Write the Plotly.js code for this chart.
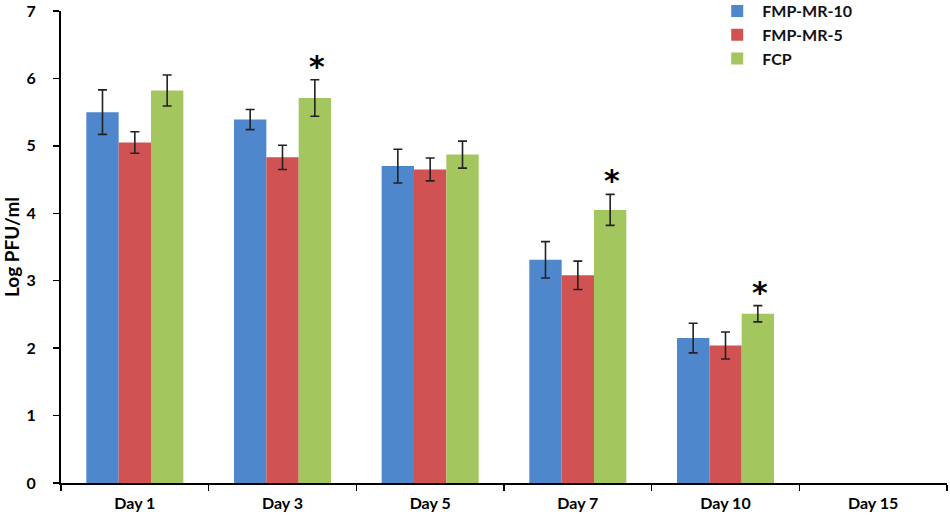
<!DOCTYPE html>
<html>
<head>
<meta charset="utf-8">
<script src="https://cdn.plot.ly/plotly-3.0.1.min.js"></script>
<style>
  body { margin: 0; background: #fff; }
  #myChart { width: 950px; height: 521px; }
</style>
</head>
<body>
<div id="myChart"></div>
<script>
// days on the x axis (Day 15 has no bars)
const days = ['Day 1', 'Day 3', 'Day 5', 'Day 7', 'Day 10', 'Day 15'];

// Log PFU/ml
const mr10 = [5.50, 5.39, 4.70, 3.31, 2.15, null];
const mr10Err = [0.33, 0.15, 0.25, 0.27, 0.22, null];

const mr5 = [5.05, 4.83, 4.65, 3.08, 2.04, null];
const mr5Err = [0.16, 0.18, 0.17, 0.21, 0.20, null];

const fcp = [5.82, 5.71, 4.87, 4.05, 2.51, null];
const fcpErr = [0.23, 0.27, 0.20, 0.23, 0.12, null];

// which FCP bars get a significance star
const starDays = ['Day 3', 'Day 7', 'Day 10'];

const fontFam = 'Lato, "Open Sans", sans-serif';

function barTrace(name, y, err, color) {
    return {
        type: 'bar',
        name: name,
        x: days,
        y: y,
        marker: { color: color, line: { width: 0 } },
        error_y: {
            type: 'data',
            array: err,
            visible: true,
            color: '#222',
            thickness: 1.6,
            width: 4.5
        }
    };
}

var data = [
    barTrace('FMP-MR-10', mr10, mr10Err, '#4F87CC'),
    barTrace('FMP-MR-5', mr5, mr5Err, '#D05252'),
    barTrace('FCP', fcp, fcpErr, '#A4C65E')
];

// stars sit over the green (third) bar of each group
var stars = starDays.map(function (d) {
    var i = days.indexOf(d);
    return {
        x: d,
        y: fcp[i] + fcpErr[i],
        xref: 'x',
        yref: 'y',
        text: '*',
        showarrow: false,
        xshift: 34,
        yanchor: 'bottom',
        yshift: -6,
        font: { family: '"DejaVu Sans", sans-serif', size: 30, color: '#000', weight: 'bold' }
    };
});

var layout = {
    width: 950,
    height: 521,
    margin: { l: 61, r: 3, t: 11, b: 38, autoexpand: false },
    paper_bgcolor: '#fff',
    plot_bgcolor: '#fff',
    barmode: 'group',
    bargap: 0.343,
    bargroupgap: 0,
    font: { family: fontFam, color: '#000' },
    showlegend: true,
    legend: {
        x: 0.735,
        y: 1.036,
        xanchor: 'left',
        yanchor: 'top',
        bgcolor: 'rgba(0,0,0,0)',
        font: { family: fontFam, size: 16, color: '#111', weight: 'bold' },
        tracegroupgap: 0,
        itemwidth: 40
    },
    xaxis: {
        type: 'category',
        showgrid: false,
        showline: true,
        linecolor: '#000',
        linewidth: 2,
        ticks: 'outside',
        tickson: 'boundaries',
        ticklen: 6,
        tickwidth: 1.5,
        tickcolor: '#000',
        ticklabelstandoff: 5,
        tickfont: { family: fontFam, size: 16, color: '#000', weight: 'bold' },
        zeroline: false
    },
    yaxis: {
        range: [0, 7],
        dtick: 1,
        showgrid: false,
        showline: true,
        linecolor: '#000',
        linewidth: 2,
        ticks: 'outside',
        ticklen: 6,
        tickwidth: 1.5,
        tickcolor: '#000',
        ticklabelstandoff: 14,
        tickfont: { family: fontFam, size: 16, color: '#000', weight: 'bold' },
        zeroline: false,
        title: {
            text: 'Log PFU/ml',
            standoff: 8,
            font: { family: fontFam, size: 19, color: '#000', weight: 'bold' }
        }
    },
    annotations: stars
};

Plotly.newPlot('myChart', data, layout, { displayModeBar: false, staticPlot: true });
</script>
</body>
</html>
